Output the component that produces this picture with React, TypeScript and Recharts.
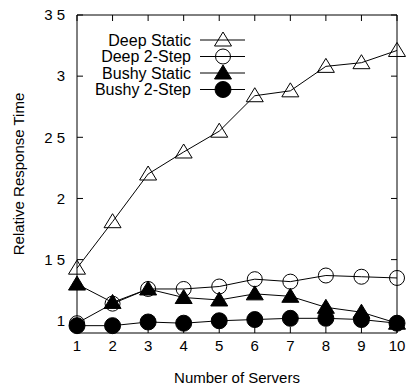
import React from "react";
import { LineChart, Line, XAxis, YAxis, ReferenceLine } from "recharts";

const servers = [1, 2, 3, 4, 5, 6, 7, 8, 9, 10];
const deepStatic = [1.43, 1.81, 2.2, 2.38, 2.55, 2.84, 2.88, 3.08, 3.11, 3.21];
const deep2Step = [0.98, 1.14, 1.26, 1.26, 1.28, 1.34, 1.32, 1.37, 1.36, 1.35];
const bushyStatic = [1.3, 1.15, 1.26, 1.19, 1.17, 1.22, 1.2, 1.11, 1.07, 0.98];
const bushy2Step = [0.96, 0.96, 0.99, 0.98, 1.0, 1.01, 1.02, 1.02, 1.01, 0.98];
const yTicks = [1, 1.5, 2, 2.5, 3, 3.5];
const yDomain = [0.9, 3.5];

const data = servers.map((s, i) => ({
  n: s,
  deepStatic: deepStatic[i],
  deep2Step: deep2Step[i],
  bushyStatic: bushyStatic[i],
  bushy2Step: bushy2Step[i],
}));

const FONT = "'Liberation Sans', Arial, Helvetica, sans-serif";
const W = 406;
const H = 385;
const MARGIN = { top: 15, right: 9, bottom: 0, left: 0 };
const PLOT_TOP = MARGIN.top;
const PLOT_RIGHT = W - MARGIN.right;

type Shape = "triOpen" | "circOpen" | "triFill" | "circFill";

function Marker({ cx, cy, shape }: { cx: number; cy: number; shape: Shape }) {
  if (cx == null || cy == null) return null;
  if (shape === "triOpen" || shape === "triFill") {
    const pts = `${cx},${cy - 8} ${cx - 8.5},${cy + 6} ${cx + 8.5},${cy + 6}`;
    return (
      <polygon
        points={pts}
        fill={shape === "triFill" ? "#000" : "none"}
        stroke="#000"
        strokeWidth={1}
      />
    );
  }
  return (
    <circle
      cx={cx}
      cy={cy}
      r={shape === "circFill" ? 8 : 7.5}
      fill={shape === "circFill" ? "#000" : "none"}
      stroke="#000"
      strokeWidth={1}
    />
  );
}

const series = [
  { key: "deepStatic", name: "Deep Static", shape: "triOpen" as Shape },
  { key: "deep2Step", name: "Deep 2-Step", shape: "circOpen" as Shape },
  { key: "bushyStatic", name: "Bushy Static", shape: "triFill" as Shape },
  { key: "bushy2Step", name: "Bushy 2-Step", shape: "circFill" as Shape },
];

const fmtY = (v: number) => (Number.isInteger(v) ? String(v) : String(v).replace(".", " "));

// tick labels plus inward tick marks on both sides of the frame
function LeftTick(props: any) {
  const x = Number(props.x);
  const y = Number(props.y);
  return (
    <g>
      <line x1={x + 12} x2={x + 18} y1={y} y2={y} stroke="#000" strokeWidth={1} />
      <line x1={PLOT_RIGHT} x2={PLOT_RIGHT - 6} y1={y} y2={y} stroke="#000" strokeWidth={1} />
      <text x={x} y={y} dy="0.35em" textAnchor="end" fontSize={15} fontFamily={FONT} fill="#000">
        {fmtY(props.payload.value)}
      </text>
    </g>
  );
}

function BottomTick(props: any) {
  const x = Number(props.x);
  const y = Number(props.y);
  return (
    <g>
      <line x1={x} x2={x} y1={y - 7} y2={y - 13} stroke="#000" strokeWidth={1} />
      <line x1={x} x2={x} y1={PLOT_TOP} y2={PLOT_TOP + 6} stroke="#000" strokeWidth={1} />
      <text x={x} y={y} dy="0.71em" textAnchor="middle" fontSize={15} fontFamily={FONT} fill="#000">
        {props.payload.value}
      </text>
    </g>
  );
}

function LegendOverlay() {
  return (
    <svg
      width={W}
      height={110}
      style={{ position: "absolute", left: 0, top: 0, pointerEvents: "none" }}
    >
      {series.map((s, i) => {
        const y = 40 + i * 16.5;
        return (
          <g key={s.key}>
            <text x={191} y={y} dy="0.35em" textAnchor="end" fontSize={16} fontFamily={FONT} fill="#000">
              {s.name}
            </text>
            <line x1={200} x2={245} y1={y} y2={y} stroke="#000" />
            <Marker cx={223} cy={y} shape={s.shape} />
          </g>
        );
      })}
    </svg>
  );
}

export default function App() {
  return (
    <div style={{ position: "absolute", left: 0, top: 0, width: W, height: H }}>
      <LineChart width={W} height={H} data={data} margin={MARGIN}>
        <XAxis
          dataKey="n"
          type="number"
          domain={[1, 10]}
          ticks={servers}
          height={52}
          tickSize={0}
          tickMargin={7}
          tickLine={false}
          axisLine={{ stroke: "#000" }}
          tick={<BottomTick />}
          label={(p: any) => {
            const vb = p.viewBox;
            return (
              <text x={vb.x + vb.width / 2} y={vb.y + 50} textAnchor="middle" fontSize={15} fontFamily={FONT} fill="#000">
                Number of Servers
              </text>
            );
          }}
        />
        <YAxis
          type="number"
          domain={yDomain}
          ticks={yTicks}
          width={77}
          tickSize={0}
          tickMargin={12}
          tickLine={false}
          axisLine={{ stroke: "#000" }}
          tick={<LeftTick />}
          label={(p: any) => {
            const vb = p.viewBox;
            const cy = vb.y + vb.height / 2;
            return (
              <text
                x={24}
                y={cy}
                transform={`rotate(-90, 24, ${cy})`}
                textAnchor="middle"
                fontSize={15}
                fontFamily={FONT}
                fill="#000"
              >
                Relative Response Time
              </text>
            );
          }}
        />
        <ReferenceLine y={yDomain[1]} stroke="#000" strokeWidth={1} ifOverflow="visible" />
        <ReferenceLine x={servers[servers.length - 1]} stroke="#000" strokeWidth={1} ifOverflow="visible" />
        {series.map((s) => (
          <Line
            key={s.key}
            type="linear"
            dataKey={s.key}
            name={s.name}
            stroke="#000"
            strokeWidth={1}
            isAnimationActive={false}
            dot={(p: any) => <Marker key={`${s.key}-${p.index}`} cx={p.cx} cy={p.cy} shape={s.shape} />}
            activeDot={false}
          />
        ))}
      </LineChart>
      <LegendOverlay />
    </div>
  );
}
